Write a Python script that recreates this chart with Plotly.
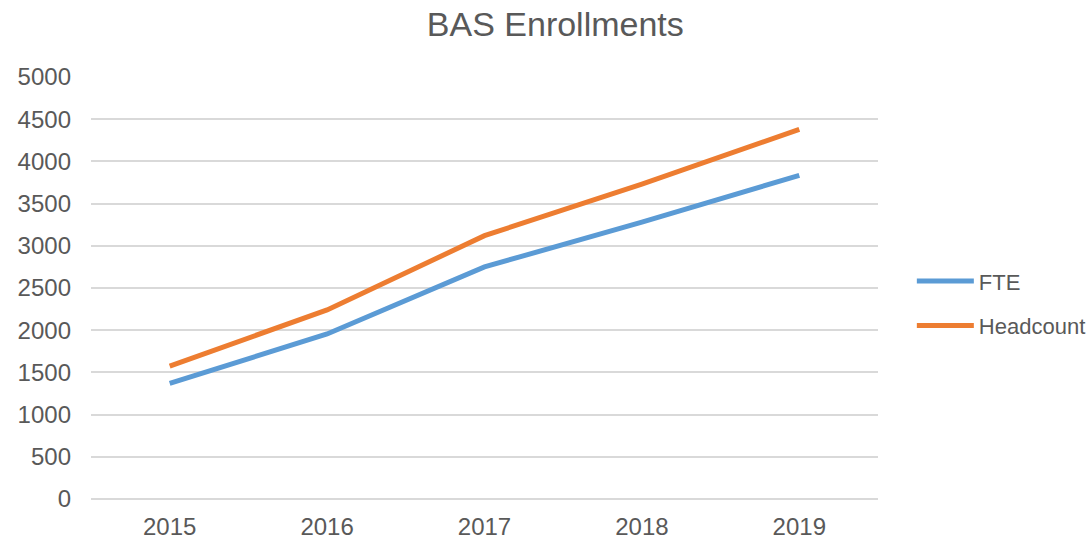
import plotly.graph_objects as go

years = ["2015", "2016", "2017", "2018", "2019"]
fte = [1370, 1955, 2750, 3280, 3835]
headcount = [1575, 2240, 3120, 3730, 4380]
y_ticks = [0, 500, 1000, 1500, 2000, 2500, 3000, 3500, 4000, 4500, 5000]

FONT = "Liberation Sans, Arial, sans-serif"
GRAY = "#595959"
GRID = "#d9d9d9"

fig = go.Figure()
fig.add_trace(go.Scatter(x=years, y=fte, mode="lines", name="FTE",
                         line=dict(color="#5B9BD5", width=5), legendgroup="a"))
fig.add_trace(go.Scatter(x=years, y=headcount, mode="lines", name="Headcount",
                         line=dict(color="#ED7D31", width=5), legendgroup="b"))

fig.update_layout(
    width=1091, height=540,
    margin=dict(l=91, r=213, t=77, b=41, autoexpand=False),
    paper_bgcolor="white", plot_bgcolor="white",
    font=dict(family=FONT, color=GRAY, size=22),
    title=dict(text="BAS Enrollments", x=0.509, xanchor="center", y=0.955, yanchor="middle",
               font=dict(size=34, color=GRAY, family=FONT), automargin=False),
    xaxis=dict(type="category", range=[-0.5, 4.5], showgrid=False, zeroline=False,
               showline=False, ticks="", tickfont=dict(size=24, color=GRAY),
               ticklabelstandoff=11, automargin=False),
    yaxis=dict(range=[0, 5000], tickvals=y_ticks, showgrid=True, gridcolor=GRID,
               gridwidth=1.5, zeroline=True, zerolinecolor=GRID, zerolinewidth=1.5,
               showline=False, ticks="",
               tickfont=dict(size=24, color=GRAY), ticklabelstandoff=19, automargin=False),
    legend=dict(x=1.043, xanchor="left", y=0.463, yanchor="middle",
                font=dict(size=22, color=GRAY), tracegroupgap=13, itemwidth=57),
)
fig.write_html("out.html", config={"displayModeBar": False},
               post_script="document.body.style.margin='0';document.body.style.overflow='hidden';")
